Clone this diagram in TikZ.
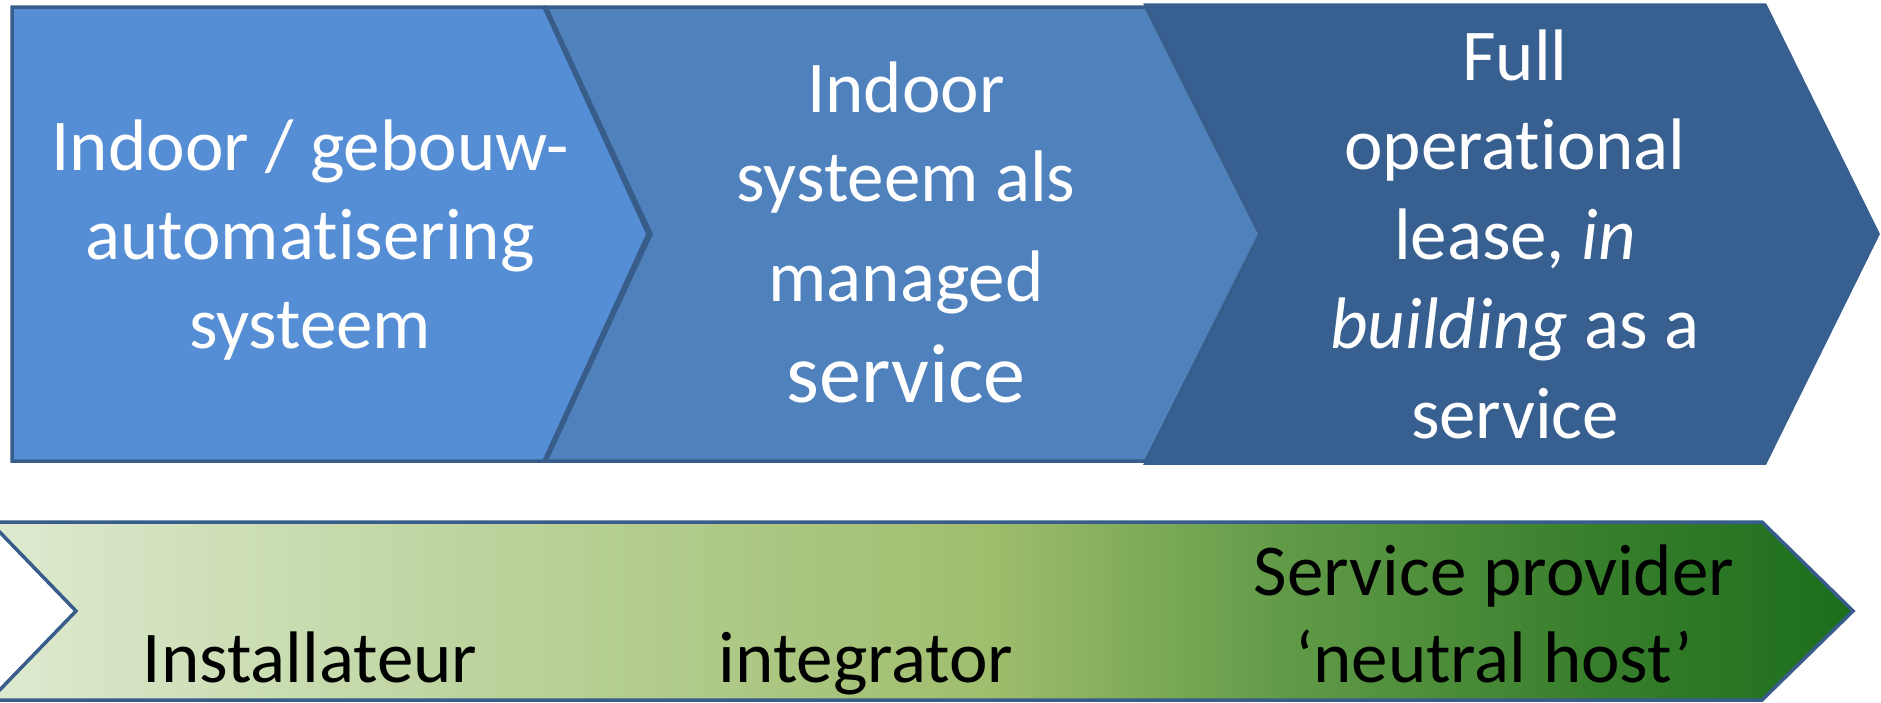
\documentclass[tikz,border=0pt]{standalone}
\usepackage{fontspec}
\setmainfont[Ligatures=NoCommon]{Carlito}
\definecolor{cA}{RGB}{85,142,213}
\definecolor{cB}{RGB}{79,129,189}
\definecolor{cC}{RGB}{55,96,145}
\definecolor{edge}{RGB}{56,93,138}
\definecolor{g0}{RGB}{222,234,208}
\definecolor{g1}{RGB}{187,210,155}
\definecolor{g2}{RGB}{160,190,110}
\definecolor{g3}{RGB}{98,155,72}
\definecolor{g4}{RGB}{58,128,45}
\definecolor{g5}{RGB}{28,110,28}
\pgfdeclarehorizontalshading{greenbar}{100bp}{color(0bp)=(g0); color(25bp)=(g0); color(38.7bp)=(g1); color(51.6bp)=(g2); color(59.6bp)=(g3); color(67.6bp)=(g4); color(75bp)=(g5); color(100bp)=(g5)}
\begin{document}
\begin{tikzpicture}[x=1pt,y=-1pt,
  chev/.style={draw=edge, line width=3.5pt, line join=miter},
  lbl/.style={inner sep=0pt, anchor=base, text=white},
  blbl/.style={inner sep=0pt, anchor=base, text=black}]
\useasboundingbox (0,0) rectangle (1881,702);
% top row chevrons
\draw[chev, fill=cC, draw=cC] (1146,5) -- (1765,5) -- (1878,234) -- (1765,463) -- (1146,463) -- (1260,234) -- cycle;
\draw[chev, fill=cB] (546,7) -- (1146,7) -- (1260,234) -- (1146,461) -- (546,461) -- (651,234) -- cycle;
\draw[chev, fill=cA] (12,7) -- (544,7) -- (648,234) -- (544,461) -- (12,461) -- cycle;
% bottom arrow
\draw[line width=3.5pt, draw=edge, line join=miter, shading=greenbar] (-10,522) -- (1762,522) -- (1853,611) -- (1762,700) -- (-10,700) -- (76,611) -- cycle;
% texts
\node[lbl] (t1) at (310,170) {\fontsize{73}{89}\selectfont\begin{tabular}[t]{@{}c@{}}Indoor / gebouw-\\automatisering\\systeem\end{tabular}};
\node[lbl] (t2) at (906,112) {\fontsize{73}{89}\selectfont\begin{tabular}[t]{@{}c@{}}Indoor\\systeem als\\[11pt]managed\\[12pt]{\fontsize{84}{89}\selectfont service}\end{tabular}};
\node[lbl] (t3) at (1515,80) {\fontsize{73}{89.5}\selectfont\begin{tabular}[t]{@{}c@{}}Full\\operational\\lease, \textit{in}\\\textit{building} as a\\service\end{tabular}};
\node[blbl] (b1) at (310,682) {\fontsize{73}{87}\selectfont Installateur};
\node[blbl] (b2) at (866,682) {\fontsize{73}{87}\selectfont integrator};
\node[blbl] (b3) at (1494,595) {\fontsize{73}{87}\selectfont\begin{tabular}[t]{@{}c@{}}Service provider\\‘neutral host’\end{tabular}};
\end{tikzpicture}
\end{document}
